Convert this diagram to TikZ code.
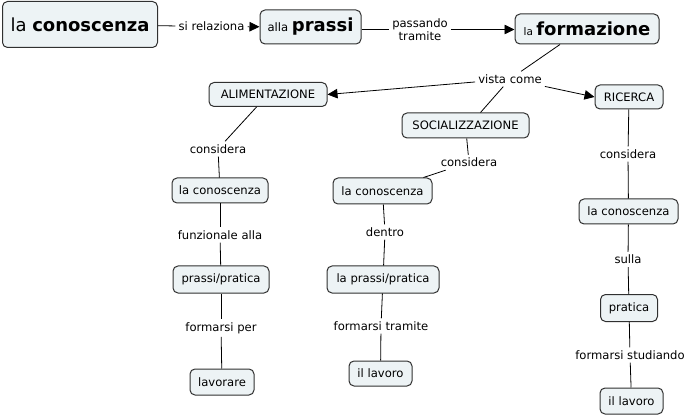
\documentclass[tikz,border=0pt]{standalone}
\usepackage{fontspec}
\setmainfont{DejaVu Sans}
\usetikzlibrary{arrows.meta}
\definecolor{cfill}{HTML}{EDF3F5}
\definecolor{cline}{HTML}{303030}
\begin{document}
\begin{tikzpicture}[x=1pt,y=-1pt,
  concept/.style={draw=cline, line width=1pt, fill=cfill, rounded corners=5pt,
    inner sep=0pt, font=\fontsize{11.6}{13}\selectfont, text=black},
  lbl/.style={font=\fontsize{11.6}{13}\selectfont, inner sep=3pt, text=black},
  conn/.style={draw=black, line width=0.8pt},
  arr/.style={conn, -{Triangle[length=10pt,width=9.5pt]}}]
\useasboundingbox (0,0) rectangle (689,417);

% top row
\node[concept, minimum width=155pt, minimum height=46pt] (c1) at (80,24.5)
  {\fontsize{18}{20}\selectfont la \textbf{conoscenza}};
\node[concept, minimum width=101pt, minimum height=34pt] (prassi) at (310.5,27)
  {alla \fontsize{18}{20}\selectfont\textbf{prassi}};
\node[concept, minimum width=144pt, minimum height=30pt] (form) at (587,29)
  {\fontsize{10.5}{12}\selectfont la \fontsize{18}{20}\selectfont\textbf{formazione}};

\node[lbl] (l1) at (211.5,26.5) {si relaziona};
\node[lbl, align=center] (l2) at (420,29.5) {passando\\tramite};
\node[lbl] (vc) at (510,79) {vista come};

% second row
\node[concept, minimum width=118pt, minimum height=24pt] (ali) at (268,94.5) {ALIMENTAZIONE};
\node[concept, minimum width=127pt, minimum height=25pt] (soc) at (465.5,125.5) {SOCIALIZZAZIONE};
\node[concept, minimum width=68pt, minimum height=24pt] (ric) at (629,97) {RICERCA};

% left column
\node[lbl] (a1) at (218,149) {considera};
\node[concept, minimum width=96pt, minimum height=25pt] (a2) at (220,190.5) {la conoscenza};
\node[lbl] (a3) at (220,235) {funzionale alla};
\node[concept, minimum width=96pt, minimum height=27pt] (a4) at (221,279.5) {prassi/pratica};
\node[lbl] (a5) at (221,328) {formarsi per};
\node[concept, minimum width=64pt, minimum height=26pt] (a6) at (222,382) {lavorare};

% middle column
\node[lbl] (b1) at (469,162.5) {considera};
\node[concept, minimum width=99pt, minimum height=26pt] (b2) at (382.5,191) {la conoscenza};
\node[lbl] (b3) at (385,232) {dentro};
\node[concept, minimum width=112pt, minimum height=27pt] (b4) at (383,279.5) {la prassi/pratica};
\node[lbl] (b5) at (381,326) {formarsi tramite};
\node[concept, minimum width=63pt, minimum height=25pt] (b6) at (380.5,373.5) {il lavoro};

% right column
\node[lbl] (r1) at (628,154) {considera};
\node[concept, minimum width=99pt, minimum height=25pt] (r2) at (628.5,211.5) {la conoscenza};
\node[lbl] (r3) at (628,259.5) {sulla};
\node[concept, minimum width=57pt, minimum height=27pt] (r4) at (629,308) {pratica};
\node[lbl] (r5) at (630,355) {formarsi studiando};
\node[concept, minimum width=63pt, minimum height=26pt] (r6) at (631.5,401) {il lavoro};

% connectors top
\draw[conn] (c1) -- (l1);
\draw[arr] (l1) -- (prassi);
\draw[conn] (prassi.east |- l2) -- (l2);
\draw[arr] (l2) -- (form.west |- l2);
\draw[conn] ([xshift=-27pt]form.south) -- (vc);
\draw[arr] (vc) -- (ali.east);
\draw[conn] (vc) -- ([xshift=15pt]soc.north);
\draw[arr] (vc) -- (ric.west);

% left
\draw[conn] (ali) -- (a1);
\draw[conn] (a1) -- (a2);
\draw[conn] (a2) -- (a3);
\draw[conn] (a3) -- (a4);
\draw[conn] (a4) -- (a5);
\draw[conn] (a5) -- (a6);
% middle
\draw[conn] (soc) -- (b1);
\draw[conn] (b1) -- (b2);
\draw[conn] (b2) -- (b3);
\draw[conn] (b3) -- (b4);
\draw[conn] (b4) -- (b5);
\draw[conn] (b5) -- (b6);
% right
\draw[conn] (ric) -- (r1);
\draw[conn] (r1) -- (r2);
\draw[conn] (r2) -- (r3);
\draw[conn] (r3) -- (r4);
\draw[conn] (r4) -- (r5);
\draw[conn] (r5) -- (r6);
\end{tikzpicture}
\end{document}
